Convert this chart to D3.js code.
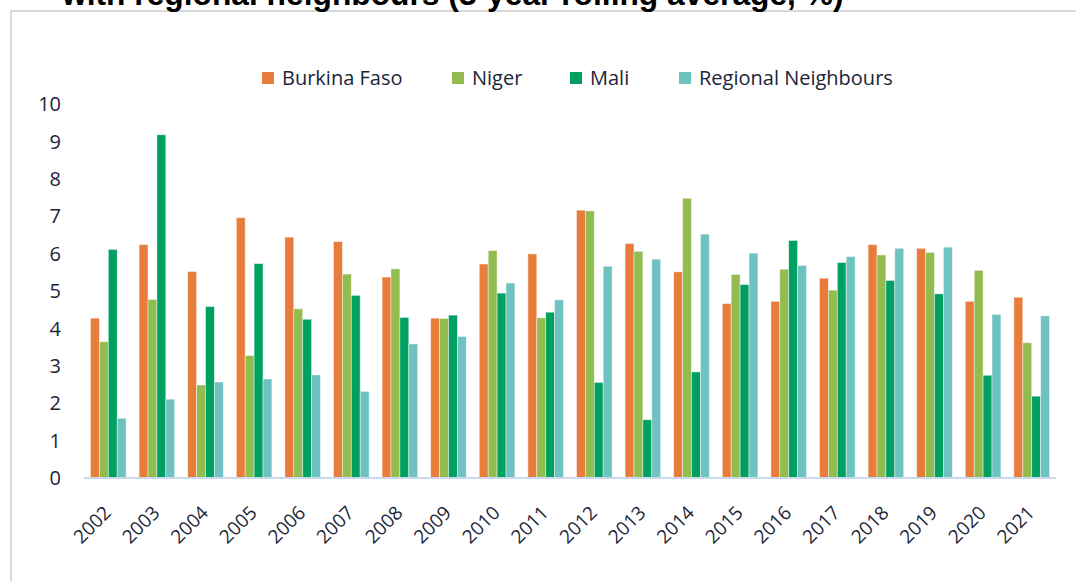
<!DOCTYPE html>
<html>
<head>
<meta charset="utf-8">
<script src="https://cdn.jsdelivr.net/npm/d3@7"></script>
<style>
  html, body { margin: 0; padding: 0; background: #fff; }
  svg { display: block; }
</style>
</head>
<body>
<svg id="chart" width="1076" height="581"></svg>
<script>
// Annual growth, 3-year rolling average (%)
const years = ["2002","2003","2004","2005","2006","2007","2008","2009","2010","2011",
               "2012","2013","2014","2015","2016","2017","2018","2019","2020","2021"];
const burkinaFaso = [4.28, 6.25, 5.53, 6.97, 6.45, 6.33, 5.38, 4.28, 5.73, 6.00,
                     7.17, 6.28, 5.52, 4.67, 4.73, 5.35, 6.25, 6.15, 4.73, 4.84];
const niger       = [3.65, 4.78, 2.49, 3.28, 4.53, 5.46, 5.60, 4.27, 6.09, 4.29,
                     7.15, 6.07, 7.49, 5.45, 5.59, 5.03, 5.97, 6.04, 5.56, 3.62];
const mali        = [6.12, 9.19, 4.59, 5.74, 4.25, 4.89, 4.30, 4.36, 4.95, 4.44,
                     2.56, 1.56, 2.84, 5.18, 6.36, 5.77, 5.29, 4.93, 2.75, 2.19];
const regional    = [1.60, 2.11, 2.57, 2.65, 2.76, 2.32, 3.59, 3.79, 5.22, 4.77,
                     5.67, 5.86, 6.53, 6.02, 5.69, 5.93, 6.15, 6.18, 4.38, 4.34];
const seriesNames = ["Burkina Faso", "Niger", "Mali", "Regional Neighbours"];
const seriesColors = ["#E87D3B", "#92BB50", "#00A062", "#6EC3C1"];
const yTicks = [0, 1, 2, 3, 4, 5, 6, 7, 8, 9, 10];
const titleText = "with regional neighbours (3-year rolling average, %)";

const seriesValues = [burkinaFaso, niger, mali, regional];
const rows = years.map((y, i) => ({
  year: y,
  values: seriesNames.map((name, s) => ({ key: name, value: seriesValues[s][i] }))
}));

const svg = d3.select("#chart");
const labelFont = "'Open Sans', 'Noto Sans', sans-serif";
const textColor = "#1B2538";

// Outer frame of the chart area
svg.append("rect")
  .attr("x", 11).attr("y", 11)
  .attr("width", 1100).attr("height", 600)
  .attr("fill", "none")
  .attr("stroke", "#D9D9D9")
  .attr("stroke-width", 2);

// Title line (the heading starts above the visible page)
const title = svg.append("text")
  .attr("x", 62).attr("y", 5)
  .attr("font-family", "'Liberation Sans', Arial, sans-serif")
  .attr("font-weight", "bold")
  .attr("font-size", 26)
  .attr("fill", "#000")
  .text(titleText);
const tw = title.node().getComputedTextLength();
title.attr("font-size", 26 * 782 / tw);

const margin = { left: 84, right: 1056, top: 104.5, bottom: 478 };

const x0 = d3.scaleBand()
  .domain(years)
  .range([margin.left, margin.right])
  .paddingInner(0.267)
  .paddingOuter(0.1335);

const x1 = d3.scaleBand()
  .domain(seriesNames)
  .range([0, x0.bandwidth()]);

const y = d3.scaleLinear()
  .domain([0, 10])
  .range([margin.bottom, margin.top]);

const color = d3.scaleOrdinal().domain(seriesNames).range(seriesColors);

// Bars
const groups = svg.append("g")
  .selectAll("g")
  .data(rows)
  .join("g")
  .attr("transform", d => `translate(${x0(d.year)},0)`);

groups.selectAll("rect")
  .data(d => d.values)
  .join("rect")
  .attr("x", d => x1(d.key))
  .attr("y", d => y(d.value))
  .attr("width", x1.bandwidth())
  .attr("height", d => y(0) - y(d.value))
  .attr("fill", d => color(d.key))
  .attr("stroke", "#fff")
  .attr("stroke-opacity", 0.55)
  .attr("stroke-width", 0.8);

// Category axis line
svg.append("line")
  .attr("x1", margin.left).attr("x2", margin.right)
  .attr("y1", y(0)).attr("y2", y(0))
  .attr("stroke", "#C9D9EE")
  .attr("stroke-width", 2);

// Value axis labels
const yAxis = d3.axisLeft(y).tickValues(yTicks).tickSize(0).tickPadding(0).tickFormat(d3.format("d"));
const yg = svg.append("g")
  .attr("transform", `translate(61,0)`)
  .call(yAxis);
yg.select(".domain").remove();
yg.selectAll("text")
  .attr("font-family", labelFont)
  .attr("font-size", 20)
  .attr("fill", textColor);

// Rotated year labels
const xAxis = d3.axisBottom(x0).tickSize(0).tickPadding(0);
const xg = svg.append("g")
  .attr("transform", `translate(0,${y(0)})`)
  .call(xAxis);
xg.select(".domain").remove();
xg.selectAll("text")
  .attr("font-family", labelFont)
  .attr("font-size", 19)
  .attr("fill", textColor)
  .attr("text-anchor", "end")
  .attr("dy", 0)
  .attr("y", 0)
  .attr("transform", "translate(4,36) rotate(-45)");

// Legend
const legendX = [262, 452, 570, 679];
const legend = svg.append("g")
  .selectAll("g")
  .data(seriesNames)
  .join("g")
  .attr("transform", (d, i) => `translate(${legendX[i]},72)`);
legend.append("rect")
  .attr("width", 12).attr("height", 12)
  .attr("fill", d => color(d));
legend.append("text")
  .attr("x", 20).attr("y", 6)
  .attr("dy", "0.35em")
  .attr("font-family", labelFont)
  .attr("font-size", 20)
  .attr("fill", textColor)
  .text(d => d);
</script>
</body>
</html>
